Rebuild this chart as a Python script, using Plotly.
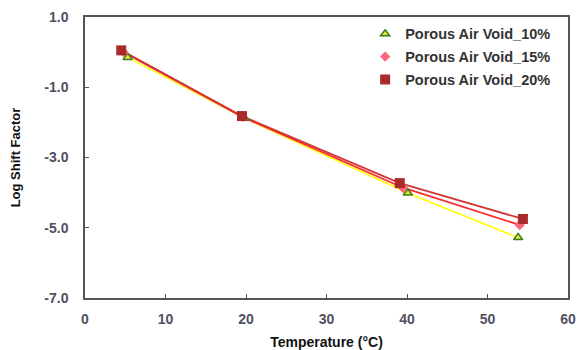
import plotly.graph_objects as go

series_names = ["Porous Air Void_10%", "Porous Air Void_15%", "Porous Air Void_20%"]
temp_10 = [5.3, 19.8, 40.1, 53.8]
shift_10 = [-0.15, -1.88, -4.01, -5.28]
temp_15 = [4.8, 19.6, 39.5, 54.0]
shift_15 = [0.0, -1.85, -3.86, -4.92]
temp_20 = [4.5, 19.5, 39.1, 54.4]
shift_20 = [0.05, -1.82, -3.73, -4.75]

x_ticks = [0, 10, 20, 30, 40, 50, 60]
y_ticks = [1.0, -1.0, -3.0, -5.0, -7.0]

line_styles = [
    dict(color="#FFFF00", width=1.5),
    dict(color="#FF2A2A", width=1.8),
    dict(color="#D03838", width=1.8),
]
marker_styles = [
    dict(symbol="triangle-up", size=8, color="#E6E62E", line=dict(color="#3B7A1E", width=1.5)),
    dict(symbol="diamond", size=8, color="#FF6680", line=dict(width=0)),
    dict(symbol="square", size=10, color="#A92A2A", line=dict(width=0)),
]
data = [(temp_10, shift_10), (temp_15, shift_15), (temp_20, shift_20)]

fig = go.Figure()
for (xs, ys), name, ls in zip(data, series_names, line_styles):
    fig.add_trace(go.Scatter(x=xs, y=ys, name=name, mode="lines", line=ls,
                             showlegend=False, hoverinfo="skip"))
for i, ((xs, ys), name, ms) in enumerate(zip(data, series_names, marker_styles)):
    fig.add_trace(go.Scatter(x=xs, y=ys, name=f"<b>{name}</b>", mode="markers",
                             marker=ms, legendgroup=f"g{i}"))

axis_common = dict(
    showline=True, linecolor="#555555", linewidth=1.5, mirror=True,
    showgrid=False, zeroline=False, ticks="inside", ticklen=4,
    tickcolor="#555555", automargin=False,
    tickfont=dict(family="Arial, Liberation Sans", size=14, color="#4F5060"),
)

# page body has an 8px margin, so the figure is sized to fit the 585x350 window
fig.update_layout(
    width=577, height=342,
    margin=dict(l=77, r=17, t=9, b=52),
    paper_bgcolor="white", plot_bgcolor="white",
    showlegend=True,
    legend=dict(x=0.58, y=0.997, xanchor="left", yanchor="top",
                bgcolor="rgba(255,255,255,0)",
                font=dict(family="Arial, Liberation Sans", size=14.5, color="#333333"),
                itemwidth=30, tracegroupgap=1, traceorder="grouped"),
    xaxis=dict(range=[0, 60], tickvals=x_ticks, ticktext=[f"<b>{v}</b>" for v in x_ticks],
               ticklabelstandoff=7,
               title=dict(text="<b>Temperature (°C)</b>", standoff=13,
                          font=dict(family="Arial, Liberation Sans", size=14, color="#111111")),
               **axis_common),
    yaxis=dict(range=[-7, 1], tickvals=y_ticks, ticktext=[f"<b>{v:.1f}</b>" for v in y_ticks],
               ticklabelstandoff=12,
               title=dict(text="<b>Log Shift Factor</b>", standoff=22,
                          font=dict(family="Arial, Liberation Sans", size=13, color="#111111")),
               **axis_common),
)

fig.write_html("out.html")
